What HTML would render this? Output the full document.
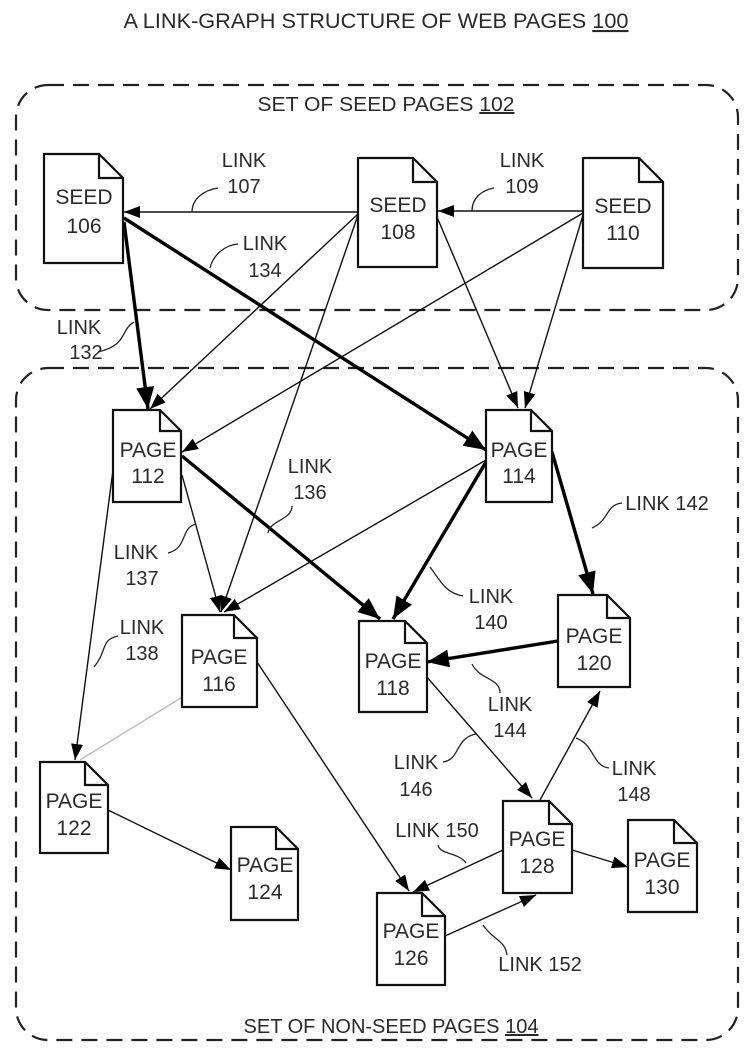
<!DOCTYPE html>
<html><head><meta charset="utf-8"><style>
html,body{margin:0;padding:0;background:#fff}
svg{display:block}
text{font-family:"Liberation Sans",Arial,sans-serif;fill:#2a2a2a}
</style></head><body>
<svg width="749" height="1053" viewBox="0 0 749 1053" xmlns="http://www.w3.org/2000/svg">
<defs>
<marker id="a" markerUnits="userSpaceOnUse" markerWidth="18" markerHeight="14" refX="16" refY="7" orient="auto"><path d="M0,1 L16,7 L0,13 Z" fill="#000"/></marker>
<marker id="b" markerUnits="userSpaceOnUse" markerWidth="24" markerHeight="20" refX="22" refY="10" orient="auto"><path d="M0,1 L22,10 L0,19 Z" fill="#000"/></marker>
</defs>
<text x="376" y="28" font-size="21" text-anchor="middle" textLength="505" lengthAdjust="spacingAndGlyphs">A LINK-GRAPH STRUCTURE OF WEB PAGES <tspan text-decoration="underline">100</tspan></text>
<rect x="16" y="85" width="722" height="225" rx="32" fill="none" stroke="#222" stroke-width="2.2" stroke-dasharray="16,9"/>
<rect x="16" y="368" width="722" height="672" rx="32" fill="none" stroke="#222" stroke-width="2.2" stroke-dasharray="16,9"/>
<text x="386" y="111" font-size="20" text-anchor="middle" textLength="257" lengthAdjust="spacingAndGlyphs">SET OF SEED PAGES <tspan text-decoration="underline">102</tspan></text>
<text x="391" y="1033" font-size="20" text-anchor="middle">SET OF NON-SEED PAGES <tspan text-decoration="underline">104</tspan></text>

<g fill="none" stroke="#111" stroke-width="1.4">
<line x1="358" y1="212" x2="124" y2="212" marker-end="url(#a)"/>
<line x1="583" y1="211" x2="438" y2="211" marker-end="url(#a)"/>
<line x1="358" y1="214" x2="150" y2="409" marker-end="url(#a)"/>
<line x1="583" y1="213" x2="182" y2="452" marker-end="url(#a)"/>
<line x1="358" y1="215" x2="221" y2="612" marker-end="url(#a)"/>
<line x1="437" y1="217" x2="518" y2="408" marker-end="url(#a)"/>
<line x1="583" y1="215" x2="525" y2="408" marker-end="url(#a)"/>
<line x1="182" y1="475" x2="220" y2="612" marker-end="url(#a)"/>
<line x1="113" y1="470" x2="75" y2="760" marker-end="url(#a)"/>
<line x1="486" y1="460" x2="224" y2="612" marker-end="url(#a)"/>
<line x1="426" y1="676" x2="532" y2="798" marker-end="url(#a)"/>
<line x1="540" y1="800" x2="600" y2="691" marker-end="url(#a)"/>
<line x1="503" y1="850" x2="413" y2="892" marker-end="url(#a)"/>
<line x1="445" y1="936" x2="536" y2="895" marker-end="url(#a)"/>
<line x1="572" y1="850" x2="628" y2="867" marker-end="url(#a)"/>
<line x1="257" y1="662" x2="409" y2="891" marker-end="url(#a)"/>
<line x1="108" y1="810" x2="231" y2="870" marker-end="url(#a)"/>
<line x1="184" y1="696" x2="80" y2="760" stroke="#bbb"/>
</g>
<g fill="none" stroke="#000" stroke-width="3.4">
<line x1="124" y1="222" x2="148" y2="409" marker-end="url(#b)"/>
<line x1="124" y1="218" x2="486" y2="450" marker-end="url(#b)"/>
<line x1="182" y1="456" x2="380" y2="619" marker-end="url(#b)"/>
<line x1="486" y1="462" x2="393" y2="619" marker-end="url(#b)"/>
<line x1="552" y1="452" x2="593" y2="594" marker-end="url(#b)"/>
<line x1="558" y1="641" x2="427" y2="662" marker-end="url(#b)"/>
</g>
<g fill="none" stroke="#222" stroke-width="1.3">
<path d="M192,212 C192,198 205,190 218,188"/>
<path d="M472,211 C472,198 482,190 494,188"/>
<path d="M210,268 C213,255 225,245 238,244"/>
<path d="M134,322 C120,330 128,345 98,352"/>
<path d="M292,506 C292,520 270,520 268,533"/>
<path d="M196,524 C180,528 188,548 168,553"/>
<path d="M118,636 C100,640 108,650 94,667"/>
<path d="M622,503 C605,505 610,520 592,528"/>
<path d="M463,596 C445,593 440,580 430,567"/>
<path d="M500,693 C500,678 480,680 472,664"/>
<path d="M443,762 C460,760 455,738 476,734"/>
<path d="M609,768 C592,766 595,745 576,738"/>
<path d="M438,845 C440,855 458,852 466,863"/>
<path d="M507,955 C505,940 493,940 483,925"/>
</g>
<g font-size="20" text-anchor="middle">
<text x="244" y="167">LINK</text><text x="244" y="193">107</text>
<text x="522" y="167">LINK</text><text x="522" y="193">109</text>
<text x="265" y="250">LINK</text><text x="265" y="277">134</text>
<text x="79" y="334">LINK</text><text x="86" y="359">132</text>
<text x="310" y="473">LINK</text><text x="310" y="499">136</text>
<text x="136" y="559">LINK</text><text x="142" y="585">137</text>
<text x="142" y="634">LINK</text><text x="142" y="660">138</text>
<text x="667" y="510">LINK 142</text>
<text x="491" y="603">LINK</text><text x="491" y="629">140</text>
<text x="510" y="711">LINK</text><text x="510" y="737">144</text>
<text x="416" y="769">LINK</text><text x="416" y="796">146</text>
<text x="634" y="775">LINK</text><text x="634" y="801">148</text>
<text x="437" y="837">LINK 150</text>
<text x="540" y="971">LINK 152</text>
</g>
<g fill="#fff" stroke="#111" stroke-width="2.2">
<path d="M44,154 H99 L123,178 V263 H44 Z"/><path d="M99,154 V178 H123" fill="none"/>
<path d="M358,158 H413 L437,182 V267 H358 Z"/><path d="M413,158 V182 H437" fill="none"/>
<path d="M583,158 H639 L663,182 V268 H583 Z"/><path d="M639,158 V182 H663" fill="none"/>
<path d="M113,410 H160 L181,431 V502 H113 Z"/><path d="M160,410 V431 H181" fill="none"/>
<path d="M486,410 H531 L552,431 V502 H486 Z"/><path d="M531,410 V431 H552" fill="none"/>
<path d="M182,615 H234 L257,638 V707 H182 Z"/><path d="M234,615 V638 H257" fill="none"/>
<path d="M359,621 H405 L427,643 V712 H359 Z"/><path d="M405,621 V643 H427" fill="none"/>
<path d="M558,595 H607 L630,618 V687 H558 Z"/><path d="M607,595 V618 H630" fill="none"/>
<path d="M40,762 H85 L108,785 V853 H40 Z"/><path d="M85,762 V785 H108" fill="none"/>
<path d="M231,827 H276 L298,849 V920 H231 Z"/><path d="M276,827 V849 H298" fill="none"/>
<path d="M377,893 H422 L445,916 V985 H377 Z"/><path d="M422,893 V916 H445" fill="none"/>
<path d="M503,801 H549 L572,824 V893 H503 Z"/><path d="M549,801 V824 H572" fill="none"/>
<path d="M628,820 H674 L697,843 V912 H628 Z"/><path d="M674,820 V843 H697" fill="none"/>
</g>
<g font-size="21" text-anchor="middle">
<text x="84" y="204">SEED</text><text x="84" y="233">106</text>
<text x="398" y="212">SEED</text><text x="398" y="239">108</text>
<text x="623" y="213">SEED</text><text x="623" y="240">110</text>
<text x="148" y="457">PAGE</text><text x="148" y="483">112</text>
<text x="519" y="457">PAGE</text><text x="519" y="483">114</text>
<text x="219" y="664">PAGE</text><text x="219" y="691">116</text>
<text x="393" y="668">PAGE</text><text x="393" y="695">118</text>
<text x="594" y="643">PAGE</text><text x="594" y="670">120</text>
<text x="74" y="808">PAGE</text><text x="74" y="835">122</text>
<text x="265" y="872">PAGE</text><text x="265" y="899">124</text>
<text x="411" y="938">PAGE</text><text x="411" y="965">126</text>
<text x="537" y="846">PAGE</text><text x="537" y="873">128</text>
<text x="662" y="867">PAGE</text><text x="662" y="894">130</text>
</g>
</svg>
</body></html>
